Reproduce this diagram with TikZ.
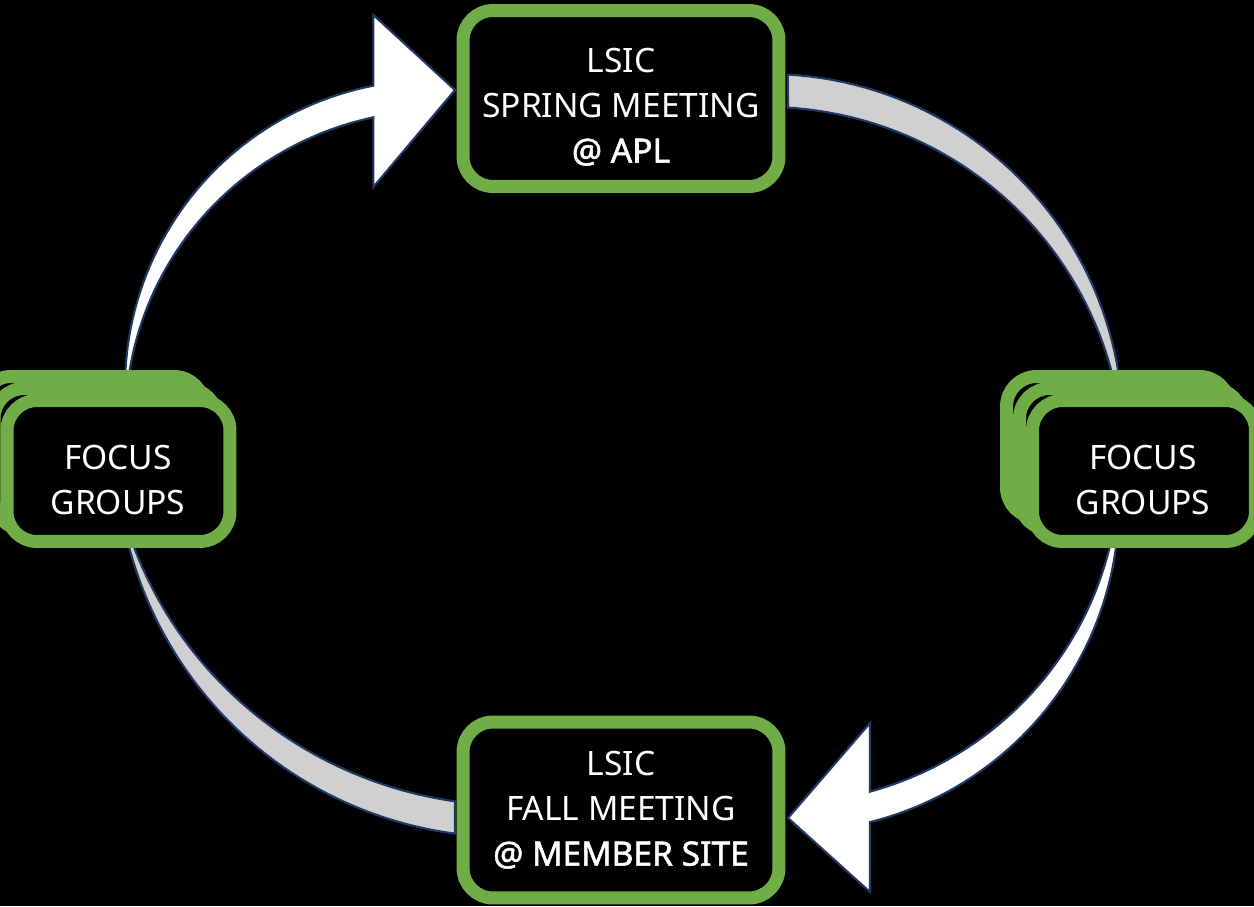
\documentclass[tikz,border=0pt]{standalone}
\usepackage{fontspec}
\setmainfont{Noto Sans}[AutoFakeBold=1.6]
\definecolor{lsicgreen}{RGB}{112,173,71}
\definecolor{arrowedge}{RGB}{32,56,100}
\definecolor{arrowgray}{RGB}{208,208,208}

\begin{document}
\begin{tikzpicture}[x=0.02cm, y=-0.02cm,
    meetbox/.style={draw=lsicgreen, fill=black, line width=0.26cm, rounded corners=0.6cm,
      minimum width=6.32cm, minimum height=3.52cm},
    focusbox/.style={meetbox, minimum width=4.46cm, minimum height=2.82cm},
    boxtext/.style={text=white, align=center, font=\fontsize{19.1}{25.6}\selectfont},
    bigarrow/.style={draw=arrowedge, line width=1.2pt, fill=white},
    tailarrow/.style={bigarrow, fill=arrowgray}]

  \path[fill=black, use as bounding box] (0,0) rectangle (1254,906);
  \clip (0,0) rectangle (1254,906);

  % Curved arrows
  \filldraw[bigarrow] plot[domain=176:259, samples=50] ({432+307*cos(\x)},{387+307*sin(\x)})
    -- (373.4,15) -- (455,90) -- (373.4,187)
    -- plot[domain=257.74:176, samples=50] ({432+(307-31*sin(90*(\x-176)/83))*cos(\x)},{387+(307-31*sin(90*(\x-176)/83))*sin(\x)})
    -- cycle;
  \filldraw[tailarrow] plot[domain=273.2:362, samples=50] ({768+355*cos(\x)},{429+355*sin(\x)})
    -- plot[domain=362:273.56, samples=50] ({768+(355-33*sin(90*(362-\x)/88.8))*cos(\x)},{429+(355-33*sin(90*(362-\x)/88.8))*sin(\x)})
    -- cycle;
  \filldraw[bigarrow] plot[domain=-3:75.93, samples=50] ({790+329*cos(\x)},{503+329*sin(\x)})
    -- (870,892) -- (788,818) -- (870,723)
    -- plot[domain=74.5:-3, samples=50] ({790+(329-29.5*sin(90*(\x+3)/78.93))*cos(\x)},{503+(329-29.5*sin(90*(\x+3)/78.93))*sin(\x)})
    -- cycle;
  \filldraw[tailarrow] plot[domain=97.52:172, samples=50] ({506+390*cos(\x)},{447+390*sin(\x)})
    -- plot[domain=172:98.19, samples=50] ({506+(390-32*sin(90*(172-\x)/74.48))*cos(\x)},{447+(390-32*sin(90*(172-\x)/74.48))*sin(\x)})
    -- cycle;

  % Meetings
  \node[meetbox] (spring) at (621,98.5) {};
  \node[meetbox] (fall) at (621,810) {};

  % Focus group stacks
  \node[focusbox] (focusLback) at (92.5,447) {};
  \node[focusbox] (focusLmid) at (105.5,459) {};
  \node[focusbox] (focusL) at (118.5,471) {};
  \node[focusbox] (focusRback) at (1118,447) {};
  \node[focusbox] (focusRmid) at (1131,459) {};
  \node[focusbox] (focusR) at (1144,471) {};

  % Texts
  \node[boxtext] (springtext) at (621,107) {LSIC\\SPRING MEETING\\\textbf{@ APL}};
  \node[boxtext] (falltext) at (621,810) {LSIC\\FALL MEETING\\\textbf{@ MEMBER SITE}};
  \node[boxtext] (focusLtext) at (118,480) {FOCUS\\GROUPS};
  \node[boxtext] (focusRtext) at (1143,480) {FOCUS\\GROUPS};
\end{tikzpicture}
\end{document}
